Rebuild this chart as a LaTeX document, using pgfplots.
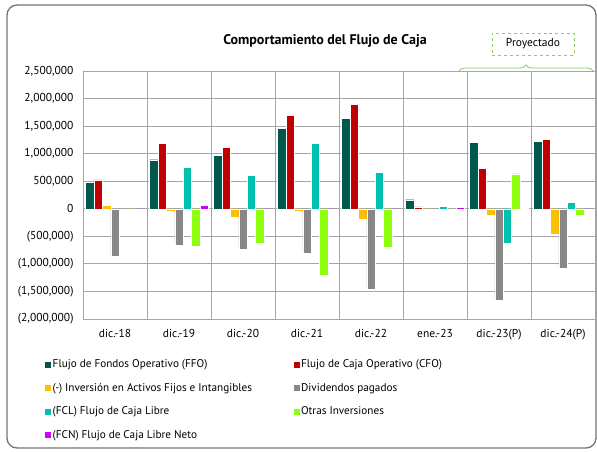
\documentclass[border=0pt]{standalone}
\usepackage{pgfplots}
\pgfplotsset{compat=1.18}
\usepackage{fontspec}
\setmainfont{PT Sans}
\usetikzlibrary{decorations.pathreplacing}
\definecolor{cFFO}{HTML}{00574E}
\definecolor{cCFO}{HTML}{C00000}
\definecolor{cINV}{HTML}{FFC000}
\definecolor{cDIV}{HTML}{878787}
\definecolor{cFCL}{HTML}{00C0AE}
\definecolor{cOTR}{HTML}{8FFF0F}
\definecolor{cFCN}{HTML}{CC00FF}
\definecolor{cGrid}{HTML}{A6A6A6}
\definecolor{cGreen}{HTML}{8CCB6E}
\begin{document}
\begin{tikzpicture}
\useasboundingbox (0bp,0bp) rectangle (597bp,452bp);
\draw[black!55, line width=1.3bp, rounded corners=10bp] (7bp,4bp) rectangle (596bp,447bp);
\node[font=\bfseries\fontsize{14bp}{16bp}\selectfont] at (325bp,411bp) {Comportamiento del Flujo de Caja};
\node[draw=cGreen, dashed, line width=0.9bp, minimum width=82bp, minimum height=22bp, font=\fontsize{11.5bp}{13bp}\selectfont] at (533bp,408bp) {Proyectado};
\draw[cGreen, line width=0.8bp, decorate, decoration={brace, amplitude=6bp}] (459bp,381bp) -- (593bp,381bp);
\begin{axis}[
  at={(83bp,133bp)}, anchor=south west,
  scale only axis, width=512bp, height=248bp,
  xmin=-0.5, xmax=7.5, ymin=-2000000, ymax=2500000,
  ybar=0pt, bar width=8.4bp,
  xtick={0,...,7},
  xticklabels={dic.-18,dic.-19,dic.-20,dic.-21,dic.-22,ene.-23,dic.-23(P),dic.-24(P)},
  minor xtick={0.5,1.5,...,6.5},
  xminorgrids, ymajorgrids,
  minor grid style={cGrid, line width=0.9bp},
  major grid style={cGrid, line width=0.9bp},
  axis line style={cGrid, line width=0.9bp},
  tick style={draw=none},
  scaled y ticks=false,
  ytick={-2000000,-1500000,...,2500000},
  yticklabels={{(2,000,000)},{(1,500,000)},{(1,000,000)},{(500,000)},{0},{500,000},{1,000,000},{1,500,000},{2,000,000},{2,500,000}},
  ticklabel style={font=\fontsize{11.5bp}{13bp}\selectfont},
  yticklabel style={xshift=-6bp},
  xticklabel style={yshift=-3bp},
  legend columns=2,
  legend cell align=left,
  legend style={at={(-0.08,-0.15)}, anchor=north west, draw=none, fill=none,
    font=\fontsize{11.2bp}{13bp}\selectfont, row sep=11bp,
    nodes={inner sep=1.5bp},
    /tikz/column 2/.style={column sep=40bp}},
  legend image code/.code={\fill[#1, draw=none] (0bp,-3bp) rectangle (6bp,3bp);},
]
\addplot[fill=cFFO, draw=white, line width=0.4bp] coordinates {(0,484000) (1,890000) (2,975000) (3,1453000) (4,1647000) (5,164000) (6,1199000) (7,1229000)};
\addlegendentry{Flujo de Fondos Operativo (FFO)}
\addplot[fill=cCFO, draw=white, line width=0.4bp] coordinates {(0,524000) (1,1181000) (2,1120000) (3,1696000) (4,1890000) (5,36000) (6,739000) (7,1260000)};
\addlegendentry{Flujo de Caja Operativo (CFO)}
\addplot[fill=cINV, draw=white, line width=0.4bp] coordinates {(0,60000) (1,-48000) (2,-157000) (3,-48000) (4,-182000) (5,-10000) (6,-112000) (7,-454000)};
\addlegendentry{(-) Inversión en Activos Fijos e Intangibles}
\addplot[fill=cDIV, draw=white, line width=0.4bp] coordinates {(0,-866000) (1,-666000) (2,-727000) (3,-805000) (4,-1460000) (5,-5000) (6,-1653000) (7,-1072000)};
\addlegendentry{Dividendos pagados}
\addplot[fill=cFCL, draw=white, line width=0.4bp] coordinates {(0,-30000) (1,751000) (2,612000) (3,1181000) (4,666000) (5,42000) (6,-618000) (7,121000)};
\addlegendentry{(FCL) Flujo de Caja Libre}
\addplot[fill=cOTR, draw=white, line width=0.4bp] coordinates {(0,0) (1,-672000) (2,-630000) (3,-1211000) (4,-690000) (5,-10000) (6,636000) (7,-109000)};
\addlegendentry{Otras Inversiones}
\addplot[fill=cFCN, draw=white, line width=0.4bp] coordinates {(0,-30000) (1,60000) (2,-15000) (3,-10000) (4,-15000) (5,24000) (6,5000) (7,0)};
\addlegendentry{(FCN) Flujo de Caja Libre Neto}
\end{axis}
\end{tikzpicture}
\end{document}
